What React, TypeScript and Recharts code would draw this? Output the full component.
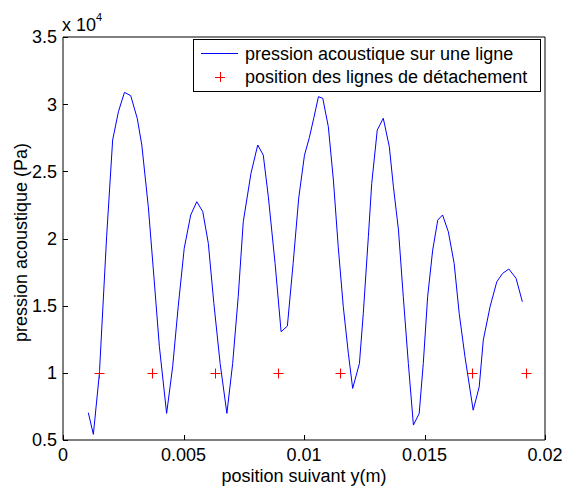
import React from 'react';
import { ComposedChart, Line, Scatter, XAxis, YAxis, Legend } from 'recharts';

const lineX = [
  0.00105, 0.00126, 0.00151, 0.00181, 0.00206, 0.0023, 0.00255, 0.00281, 0.00308, 0.00327,
  0.00354, 0.00375, 0.004, 0.0043, 0.00455, 0.00478, 0.00503, 0.0053, 0.00555, 0.0058,
  0.00603, 0.00626, 0.00652, 0.0068, 0.00704, 0.00727, 0.00748, 0.0078, 0.00808, 0.00831,
  0.00852, 0.0088, 0.00905, 0.00931, 0.00955, 0.00978, 0.01002, 0.01022, 0.01041, 0.0106,
  0.01078, 0.01101, 0.01122, 0.01142, 0.01163, 0.01184, 0.01202, 0.0123, 0.01246, 0.01267,
  0.01281, 0.01304, 0.01329, 0.01354, 0.01371, 0.01392, 0.01412, 0.01433, 0.01454, 0.01478,
  0.01495, 0.01513, 0.01534, 0.01555, 0.01575, 0.01599, 0.01623, 0.01644, 0.01668, 0.01702,
  0.01727, 0.01744, 0.01772, 0.018, 0.01824, 0.0185, 0.0188, 0.01906,
];
const lineY = [
  0.703, 0.542, 0.996, 2.013, 2.733, 2.944, 3.088, 3.063, 2.895, 2.696,
  2.236, 1.765, 1.194, 0.698, 1.045, 1.492, 1.927, 2.175, 2.274, 2.2,
  1.964, 1.517, 1.07, 0.698, 1.07, 1.566, 2.125, 2.485, 2.696, 2.621,
  2.311, 1.815, 1.306, 1.348, 1.815, 2.3, 2.62, 2.75, 2.9, 3.056,
  3.043, 2.832, 2.435, 1.939, 1.492, 1.145, 0.884, 1.07, 1.442, 2.013,
  2.41, 2.807, 2.895, 2.683, 2.385, 2.063, 1.566, 1.07, 0.611, 0.698,
  1.07, 1.566, 1.914, 2.137, 2.175, 2.05, 1.815, 1.442, 1.119, 0.722,
  0.896, 1.244, 1.492, 1.678, 1.74, 1.773, 1.703, 1.529,
];
const markerX = [0.00151, 0.00371, 0.00631, 0.00891, 0.01149, 0.01698, 0.01921];
const markerY = [1, 1, 1, 1, 1, 1, 1];

const xTicks = [0, 0.005, 0.01, 0.015, 0.02];
const yTicks = [0.5, 1, 1.5, 2, 2.5, 3, 3.5];

const lineLabel = 'pression acoustique sur une ligne';
const markerLabel = 'position des lignes de détachement';
const xTitle = 'position suivant y(m)';
const yTitle = 'pression acoustique (Pa)';

const lineData = lineX.map((x, i) => ({ x, y: lineY[i] }));
const markerData = markerX.map((x, i) => ({ x, y: markerY[i] }));

const FONT = '"Liberation Sans", Arial, Helvetica, sans-serif';
const FS = 18;
const TICK_LEN = 5;
const X_GAP = 8;
const Y_GAP = 6;
const AXIS_COLOR = '#000000';

function renderBottomTick(props: any) {
  const { x, y, payload } = props;
  const axisY = y - X_GAP;
  const px = Math.round(x) + 0.5;
  return (
    <g key={`bt-${payload.value}`}>
      <path d={`M${px},${axisY}V${axisY - TICK_LEN}`} stroke={AXIS_COLOR} strokeWidth={1} fill="none" />
      <text x={x} y={y} dy="0.71em" textAnchor="middle" fontSize={FS} fill="#000" fontFamily={FONT}>
        {String(payload.value)}
      </text>
    </g>
  );
}

function renderTopTick(props: any) {
  const { x, y, payload } = props;
  const px = Math.round(x) + 0.5;
  return (
    <path key={`tt-${payload.value}`} d={`M${px},${y}V${y + TICK_LEN}`} stroke={AXIS_COLOR} strokeWidth={1} fill="none" />
  );
}

function renderLeftTick(props: any) {
  const { x, y, payload } = props;
  const axisX = x + Y_GAP;
  const py = Math.round(y) + 0.5;
  return (
    <g key={`lt-${payload.value}`}>
      <path d={`M${axisX},${py}H${axisX + TICK_LEN}`} stroke={AXIS_COLOR} strokeWidth={1} fill="none" />
      <text x={x} y={y} dy="0.355em" textAnchor="end" fontSize={FS} fill="#000" fontFamily={FONT}>
        {String(payload.value)}
      </text>
    </g>
  );
}

function renderRightTick(props: any) {
  const { x, y, payload } = props;
  const py = Math.round(y) + 0.5;
  return (
    <path key={`rt-${payload.value}`} d={`M${x},${py}H${x - TICK_LEN}`} stroke={AXIS_COLOR} strokeWidth={1} fill="none" />
  );
}

const Plus = (props: any) => {
  const { cx, cy } = props;
  if (cx == null || cy == null) return null;
  const x = Math.round(cx) + 0.5;
  const y = Math.round(cy) + 0.5;
  return (
    <g>
      <line x1={x - 5} x2={x + 5} y1={y} y2={y} stroke="#ff0000" strokeWidth={1} />
      <line x1={x} x2={x} y1={y - 5} y2={y + 5} stroke="#ff0000" strokeWidth={1} />
    </g>
  );
};

const LegendBox = () => (
  <svg width={348} height={53} style={{ display: 'block', fontFamily: FONT }}>
    <rect x={0.5} y={0.5} width={347} height={52} fill="#ffffff" stroke="#000000" strokeWidth={1} />
    <line x1={8} x2={45} y1={14.5} y2={14.5} stroke="#0000ff" strokeWidth={1} />
    <text x={52} y={21} fontSize={FS} fill="#000">{lineLabel}</text>
    <line x1={22} x2={32} y1={38.5} y2={38.5} stroke="#ff0000" strokeWidth={1} />
    <line x1={27.5} x2={27.5} y1={33} y2={43} stroke="#ff0000" strokeWidth={1} />
    <text x={52} y={44} fontSize={FS} fill="#000">{markerLabel}</text>
  </svg>
);

const YTitle = (props: any) => {
  const vb = props.viewBox || {};
  const cy = (vb.y || 0) + (vb.height || 0) / 2 + 4;
  return (
    <text
      x={27}
      y={cy}
      transform={`rotate(-90, 27, ${cy})`}
      textAnchor="middle"
      fontSize={FS}
      fill="#000"
      fontFamily={FONT}
    >
      {yTitle}
    </text>
  );
};

const Exponent = () => (
  <text x={62} y={31} fontSize={FS} fill="#000" fontFamily={FONT}>
    x 10
    <tspan fontSize={11} dy={-10}>4</tspan>
  </text>
);

export default function App() {
  return (
    <div style={{ position: 'absolute', left: 0, top: 0, fontFamily: FONT, background: '#fff' }}>
      <ComposedChart
        width={564}
        height={486}
        margin={{ top: 36, right: 18, bottom: 16, left: 13 }}
      >
        <XAxis
          xAxisId="bottom"
          dataKey="x"
          type="number"
          domain={[0, 0.02]}
          ticks={xTicks}
          allowDataOverflow
          height={30}
          tickSize={0}
          tickMargin={X_GAP}
          tickLine={false}
          stroke={AXIS_COLOR}
          tick={renderBottomTick}
          label={{ value: xTitle, position: 'insideBottom', offset: -12, fontSize: FS, fill: '#000' }}
        />
        <XAxis
          xAxisId="top"
          orientation="top"
          dataKey="x"
          type="number"
          domain={[0, 0.02]}
          ticks={xTicks}
          height={1}
          tickSize={0}
          tickMargin={0}
          tickLine={false}
          tick={renderTopTick}
          stroke={AXIS_COLOR}
          label={<Exponent />}
        />
        <YAxis
          yAxisId="left"
          dataKey="y"
          type="number"
          domain={[0.5, 3.5]}
          ticks={yTicks}
          allowDataOverflow
          width={50}
          tickSize={0}
          tickMargin={Y_GAP}
          tickLine={false}
          stroke={AXIS_COLOR}
          tick={renderLeftTick}
          label={<YTitle />}
        />
        <YAxis
          yAxisId="right"
          orientation="right"
          dataKey="y"
          type="number"
          domain={[0.5, 3.5]}
          ticks={yTicks}
          width={1}
          tickSize={0}
          tickMargin={0}
          tickLine={false}
          tick={renderRightTick}
          stroke={AXIS_COLOR}
        />
        <Line
          xAxisId="bottom"
          yAxisId="left"
          data={lineData}
          dataKey="y"
          type="linear"
          stroke="#0000ff"
          strokeWidth={1}
          dot={false}
          activeDot={false}
          isAnimationActive={false}
        />
        <Scatter
          xAxisId="bottom"
          yAxisId="left"
          data={markerData}
          dataKey="y"
          shape={<Plus />}
          isAnimationActive={false}
        />
        <Legend
          layout="vertical"
          verticalAlign="middle"
          align="center"
          wrapperStyle={{ top: 39, left: 193, width: 348, height: 53 }}
          content={() => <LegendBox />}
        />
      </ComposedChart>
    </div>
  );
}
